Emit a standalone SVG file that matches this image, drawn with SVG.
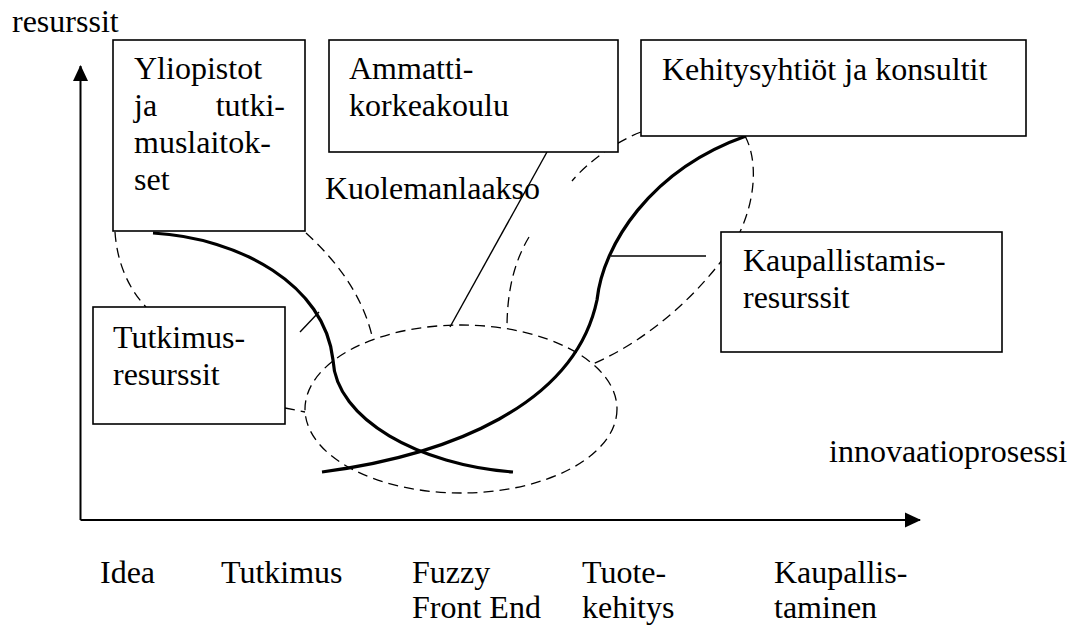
<svg xmlns="http://www.w3.org/2000/svg" width="1077" height="626" viewBox="0 0 1077 626">
  <style>
    .box { fill: #fff; stroke: #000; stroke-width: 1.6; }
    .dash { fill: none; stroke: #000; stroke-width: 1.3; stroke-dasharray: 10 6; }
    .thick { fill: none; stroke: #000; stroke-width: 3.2; }
    .thin { fill: none; stroke: #000; stroke-width: 1.4; }
    .axis { fill: none; stroke: #000; stroke-width: 2; }
    .t { font-family: "Liberation Serif", "Times New Roman", Times, serif; font-size: 32px; fill: #000; }
  </style>
  <defs>
    <marker id="arrow" viewBox="0 0 16 16" refX="15" refY="8" markerWidth="16" markerHeight="16" markerUnits="userSpaceOnUse" orient="auto">
      <path d="M0,0.5 L16,8 L0,15.5 Z" fill="#000"/>
    </marker>
  </defs>
  <rect width="1077" height="626" fill="#fff"/>

  <!-- axes -->
  <g id="axes">
    <path class="axis" d="M80.5,520 L80.5,66" marker-end="url(#arrow)"/>
    <path class="axis" d="M80.5,520 L920,520" marker-end="url(#arrow)"/>
    <text class="t" x="12" y="32">resurssit</text>
    <text class="t" x="829" y="462">innovaatioprosessi</text>
  </g>

  <!-- connectors -->
  <g id="connectors">
    <!-- fuzzy front end region -->
    <ellipse class="dash" cx="461" cy="409" rx="156" ry="84"/>
    <!-- university loop -->
    <path class="dash" d="M115,232 C117,262 128,288 146,307"/>
    <path class="dash" d="M306,233 C330,255 362,290 373,340"/>
    <!-- research resources link -->
    <path class="dash" d="M285,408 L305,412"/>
    <!-- development loop, interrupted by the label -->
    <path class="dash" d="M641,132 C615,142 588,162 572,181"/>
    <path class="dash" d="M529,237 C514,262 507,292 507,328"/>
    <!-- commercialisation loop -->
    <path class="dash" d="M745,136 C758,160 756,200 738,236 C722,265 670,330 593,364"/>
    <!-- resource curves -->
    <path class="thick" d="M153,233 C240,238 325,285 333,360 C336,420 420,465 513,472"/>
    <path class="thick" d="M322,472 C450,455 575,405 597,300 C603,245 650,170 746,136"/>
    <!-- label pointers -->
    <path class="thin" d="M300,332 L319,312"/>
    <path class="thin" d="M547,152 L450,327"/>
    <path class="thin" d="M611,256 L706,256"/>
  </g>

  <!-- nodes -->
  <g id="yliopistot">
    <rect class="box" x="113" y="40" width="192" height="191"/>
    <text class="t" x="134" y="79">Yliopistot</text>
    <text class="t" x="134" y="116">ja</text>
    <text class="t" x="285" y="116" text-anchor="end">tutki-</text>
    <text class="t" x="134" y="153">muslaitok-</text>
    <text class="t" x="134" y="190">set</text>
  </g>
  <g id="ammattikorkeakoulu">
    <rect class="box" x="329" y="40" width="289" height="112"/>
    <text class="t" x="349" y="79">Ammatti-</text>
    <text class="t" x="349" y="116">korkeakoulu</text>
  </g>
  <g id="kehitysyhtiot">
    <rect class="box" x="641" y="40" width="385" height="96"/>
    <text class="t" x="662" y="80">Kehitysyhtiöt ja konsultit</text>
  </g>
  <g id="kaupallistamisresurssit">
    <rect class="box" x="721" y="232" width="281" height="120"/>
    <text class="t" x="743" y="271">Kaupallistamis-</text>
    <text class="t" x="743" y="308">resurssit</text>
  </g>
  <g id="tutkimusresurssit">
    <rect class="box" x="93" y="307" width="192" height="117"/>
    <text class="t" x="113" y="348">Tutkimus-</text>
    <text class="t" x="113" y="385">resurssit</text>
  </g>
  <g id="kuolemanlaakso">
    <text class="t" x="325" y="199">Kuolemanlaakso</text>
  </g>

  <!-- process phases -->
  <g id="phases">
    <text class="t" x="100" y="583">Idea</text>
    <text class="t" x="221" y="583">Tutkimus</text>
    <text class="t" x="412" y="583">Fuzzy</text>
    <text class="t" x="412" y="618">Front End</text>
    <text class="t" x="582" y="583">Tuote-</text>
    <text class="t" x="582" y="618">kehitys</text>
    <text class="t" x="774" y="583">Kaupallis-</text>
    <text class="t" x="774" y="618">taminen</text>
  </g>
</svg>
